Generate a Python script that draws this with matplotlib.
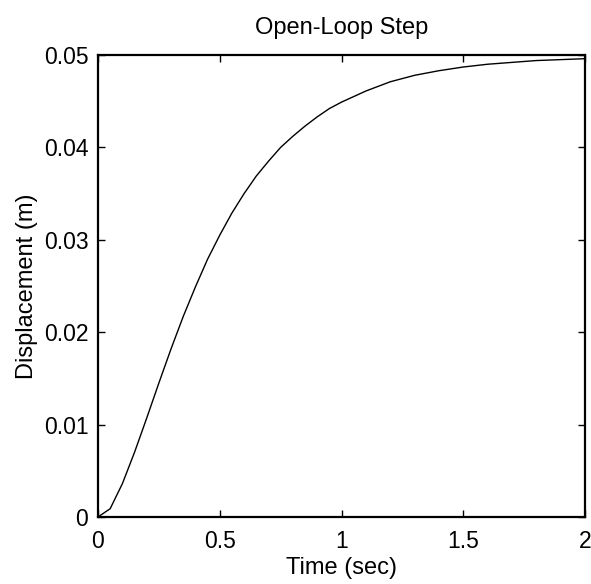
import matplotlib
matplotlib.use("Agg")
import matplotlib.pyplot as plt
from matplotlib import font_manager

# Values
time_s = [0.00, 0.05, 0.10, 0.15, 0.20, 0.25, 0.30, 0.35, 0.40, 0.45,
          0.50, 0.55, 0.60, 0.65, 0.70, 0.75, 0.80, 0.85, 0.90, 0.95,
          1.00, 1.10, 1.20, 1.30, 1.40, 1.50, 1.60, 1.70, 1.80, 1.90, 2.00]
displacement_m = [0.0000, 0.0009, 0.0036, 0.0070, 0.0107, 0.0145, 0.0182, 0.0217,
                  0.0249, 0.0279, 0.0305, 0.0329, 0.0350, 0.0369, 0.0385, 0.0400,
                  0.0412, 0.0423, 0.0433, 0.0442, 0.0449, 0.0461, 0.0471, 0.0478,
                  0.0483, 0.0487, 0.0490, 0.0492, 0.0494, 0.0495, 0.0496]
x_ticks = [0, 0.5, 1, 1.5, 2]
x_tick_labels = ["0", "0.5", "1", "1.5", "2"]
y_ticks = [0, 0.01, 0.02, 0.03, 0.04, 0.05]
y_tick_labels = ["0", "0.01", "0.02", "0.03", "0.04", "0.05"]

names = {f.name for f in font_manager.fontManager.ttflist}
fam = "Liberation Sans" if "Liberation Sans" in names else "DejaVu Sans"
plt.rcParams["font.family"] = [fam, "DejaVu Sans"]

fig = plt.figure(figsize=(5.91, 5.84), dpi=100)
ax = fig.add_axes([98/591, 67/584, 487/591, 462/584])

ax.plot(time_s, displacement_m, color="black", linewidth=1.0)

ax.set_xlim(0, 2)
ax.set_ylim(0, 0.05)
ax.set_xticks(x_ticks)
ax.set_xticklabels(x_tick_labels)
ax.set_yticks(y_ticks)
ax.set_yticklabels(y_tick_labels)

ax.tick_params(direction="in", length=5, width=1.0, top=True, right=True,
               labelsize=16.5, colors="black")
ax.tick_params(axis="x", pad=9)
ax.tick_params(axis="y", pad=7)
for s in ax.spines.values():
    s.set_linewidth(1.6)
    s.set_color("black")

ax.set_title("Open-Loop Step", fontsize=17, pad=15)
ax.set_xlabel("Time (sec)", fontsize=17, labelpad=3)
ax.set_ylabel("Displacement (m)", fontsize=17, labelpad=4)

fig.savefig("out.png", dpi=100, facecolor="white")
